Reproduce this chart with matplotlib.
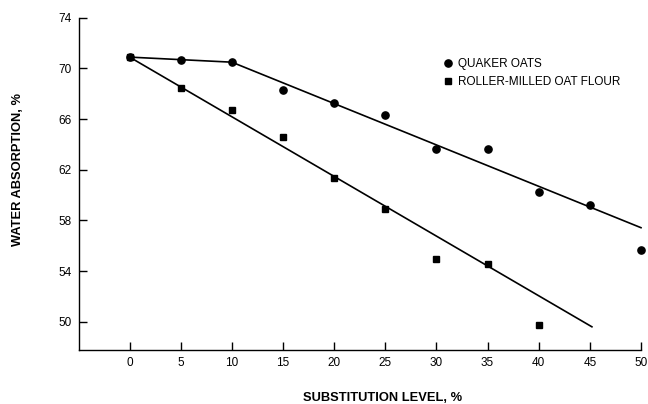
import matplotlib
matplotlib.use("Agg")
import matplotlib.pyplot as plt
from matplotlib.lines import Line2D

plt.rcParams['font.family'] = ['Liberation Sans', 'DejaVu Sans']

levels = [0, 5, 10, 15, 20, 25, 30, 35, 40, 45, 50]
quaker = [70.89, 70.70, 70.49, 68.31, 67.27, 66.29, 63.67, 63.62, 60.23, 59.19, 55.70]
roller_levels = [0, 5, 10, 15, 20, 25, 30, 35, 40]
roller = [70.89, 68.42, 66.72, 64.59, 61.37, 58.93, 54.99, 54.55, 49.75]

quaker_fit_x = [0, 10, 50]
quaker_fit_y = [70.89, 70.49, 57.43]
roller_fit_x = [0, 45.2]
roller_fit_y = [70.89, 49.61]

xticks = [0, 5, 10, 15, 20, 25, 30, 35, 40, 45, 50]
yticks = [50, 54, 58, 62, 66, 70, 74]

fig = plt.figure(figsize=(6.48, 4.04), dpi=100)
ax = fig.add_axes([78.5/648, 1-350/404, (641-78.5)/648, (350-17.7)/404])

ax.plot(quaker_fit_x, quaker_fit_y, color='black', lw=1.2, clip_on=False)
ax.plot(roller_fit_x, roller_fit_y, color='black', lw=1.2, clip_on=False)
ax.plot(levels, quaker, 'o', color='black', ms=5.2, clip_on=False, zorder=3)
ax.plot(roller_levels, roller, 's', color='black', ms=4.6, clip_on=False, zorder=4)

ax.set_xlim(-5, 50)
ax.set_ylim(47.78, 74)
ax.set_xticks(xticks)
ax.set_xticklabels([str(v) for v in xticks])
ax.set_yticks(yticks)
ax.set_yticklabels([str(v) for v in yticks])
for s in ['top', 'right']:
    ax.spines[s].set_visible(False)
for s in ['left', 'bottom']:
    ax.spines[s].set_linewidth(1.0)
ax.tick_params(axis='both', direction='in', length=6, width=1.0, labelsize=8.5)
ax.tick_params(axis='x', pad=5)
ax.tick_params(axis='y', pad=5)

fig.text(383/648, 1-398/404, 'SUBSTITUTION LEVEL, %', ha='center', va='center', fontsize=9.3, fontweight='bold')
fig.text(18/648, 1-170/404, 'WATER ABSORPTION, %', ha='center', va='center', rotation=90, fontsize=9.3, fontweight='bold')

handles = [Line2D([], [], marker='o', ls='none', color='black', ms=5.2),
           Line2D([], [], marker='s', ls='none', color='black', ms=4.6)]
fig.legend(handles, ['QUAKER OATS', 'ROLLER-MILLED OAT FLOUR'], loc='upper left',
           bbox_to_anchor=(444/648, 1-58/404), frameon=False, fontsize=8.5,
           handlelength=0.6, handletextpad=0.55, labelspacing=0.55, borderpad=0, borderaxespad=0)

fig.savefig('out.png', dpi=100)
